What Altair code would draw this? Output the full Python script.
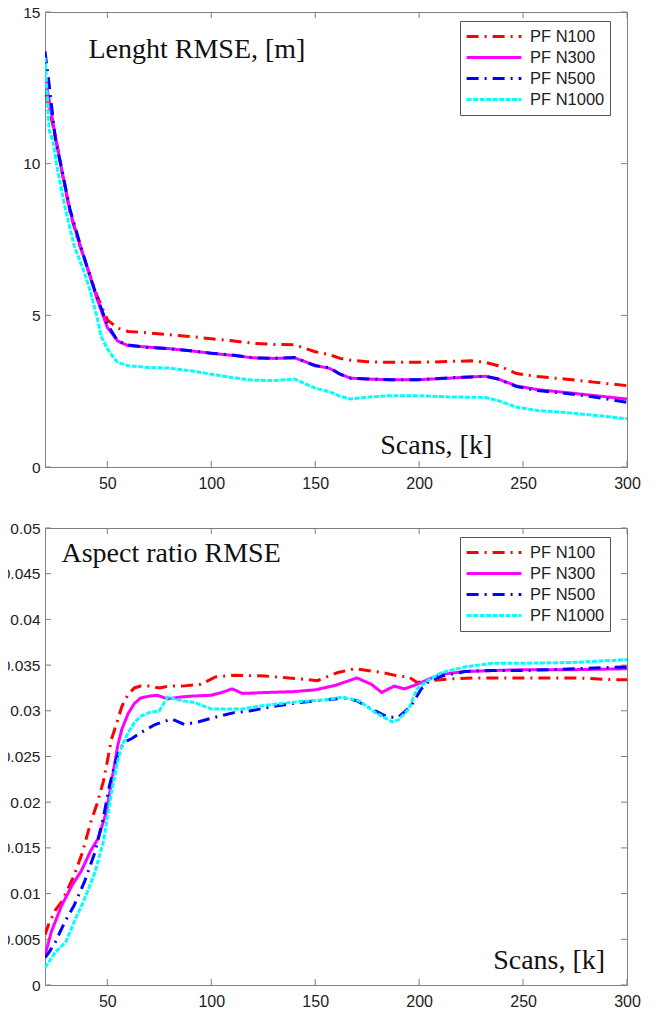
import altair as alt
import pandas as pd

SERIES = ["PF N100", "PF N300", "PF N500", "PF N1000"]
COLORS = ["#ff0000", "#ff00ff", "#0000ff", "#00ffff"]
DASHES = [[12, 6, 2, 6], [1, 0], [12, 6, 2, 6], [5, 1.5]]

# ---- top panel: Length RMSE ----
top_x = [20, 22, 25, 28, 32, 36, 40, 45, 50, 55, 60, 70, 80, 90, 100, 110, 120, 130, 140, 150,
         157, 162, 167, 175, 185, 200, 215, 225, 232, 238, 247, 257, 270, 285, 300]
top_n100 = [12.4, 11.8, 10.9, 9.8, 8.4, 7.45, 6.65, 5.65, 4.85, 4.58, 4.47, 4.42, 4.36, 4.3, 4.23,
            4.16, 4.08, 4.04, 4.03, 3.8, 3.7, 3.58, 3.52, 3.47, 3.45, 3.45, 3.48, 3.5, 3.45, 3.34,
            3.08, 2.98, 2.9, 2.79, 2.68]
top_n300 = [12.8, 12.1, 10.9, 9.8, 8.45, 7.5, 6.65, 5.55, 4.6, 4.15, 4.0, 3.95, 3.9, 3.83, 3.75,
            3.68, 3.6, 3.58, 3.6, 3.35, 3.25, 3.06, 2.93, 2.9, 2.88, 2.88, 2.93, 2.97, 2.99, 2.9,
            2.67, 2.55, 2.46, 2.35, 2.24]
top_n500 = [13.7, 12.6, 10.8, 9.85, 8.5, 7.55, 6.65, 5.6, 4.7, 4.15, 4.02, 3.94, 3.9, 3.83, 3.75,
            3.69, 3.6, 3.58, 3.61, 3.34, 3.27, 3.06, 2.93, 2.9, 2.88, 2.88, 2.94, 2.97, 2.99, 2.9,
            2.65, 2.52, 2.43, 2.3, 2.13]
top_x_n1000 = [20, 22, 24, 25.5, 29.5, 34, 39, 42, 45, 47, 50, 53, 55, 60, 70, 80, 90, 100, 110, 120,
               130, 140, 150, 157, 162, 167, 175, 185, 200, 215, 225, 232, 238, 247, 257, 270, 285, 300]
top_n1000 = [13.5, 11.1, 10.7, 10.0, 8.6, 7.3, 6.4, 5.75, 4.95, 4.3, 3.9, 3.6, 3.45, 3.34, 3.28,
             3.26, 3.17, 3.06, 2.95, 2.86, 2.85, 2.9, 2.6, 2.48, 2.33, 2.24, 2.30, 2.35, 2.35, 2.31,
             2.3, 2.29, 2.19, 1.97, 1.86, 1.8, 1.7, 1.59]

# ---- bottom panel: Aspect ratio RMSE ----
bot_x_n100 = [20, 22, 25, 28, 31, 34, 38, 42, 45, 48, 50, 52, 55, 57, 60, 63, 66, 70, 75, 80,
              86, 95, 102, 111, 126, 142, 151, 161, 169, 182, 190, 195, 199, 206, 215, 227, 250, 276, 294, 300]
bot_n100 = [0.0055, 0.0068, 0.0082, 0.0091, 0.0105, 0.012, 0.0145, 0.0178, 0.0198, 0.0222,
            0.0245, 0.0269, 0.029, 0.0305, 0.0318, 0.0325, 0.0327, 0.0327, 0.0325, 0.0327,
            0.0327, 0.0329, 0.0337, 0.0339, 0.0338, 0.0335, 0.0333, 0.0342, 0.0346, 0.0342,
            0.0338, 0.0337, 0.0331, 0.0333, 0.0335, 0.0336, 0.0336, 0.0336, 0.0334, 0.0334]
bot_x_n300 = [20, 23, 28, 33, 37.5, 42, 45.5, 49.5, 52, 55, 57, 60, 63, 66, 70, 74, 79, 85, 90, 100,
              105, 110, 115, 126, 140, 150, 160, 170, 177, 182, 188, 193, 199, 205, 211, 222, 235, 250, 275, 300]
bot_n300 = [0.0032, 0.0058, 0.0087, 0.0109, 0.0125, 0.0147, 0.016, 0.0189, 0.0222, 0.0262,
            0.028, 0.0297, 0.0308, 0.0314, 0.0316, 0.0317, 0.0313, 0.0315, 0.0316, 0.0317,
            0.032, 0.0324, 0.0319, 0.032, 0.0321, 0.0323, 0.0328, 0.0336, 0.0329, 0.032,
            0.0327, 0.0324, 0.0329, 0.0335, 0.034, 0.0343, 0.0344, 0.0345, 0.0345, 0.0346]
bot_x_n500 = [20, 22, 25, 29.5, 34, 39, 44, 48, 51, 54, 56, 58.5, 62, 66, 73, 81, 87, 94, 102, 111,
              119, 130, 142, 155, 164, 170, 177, 185, 190, 196, 201, 205, 211, 222, 235, 250, 275, 300]
bot_n500 = [0.0030, 0.0036, 0.0047, 0.0069, 0.0087, 0.0113, 0.0145, 0.0182, 0.0218, 0.0245,
            0.0258, 0.0266, 0.027, 0.0276, 0.0285, 0.0291, 0.0285, 0.0288, 0.0293, 0.0298,
            0.030, 0.0305, 0.0309, 0.0312, 0.0314, 0.0311, 0.0302, 0.0293, 0.0293, 0.0305,
            0.0324, 0.0333, 0.0338, 0.0343, 0.0344, 0.0344, 0.0346, 0.0348]
bot_x_n1000 = [20, 25, 30, 34, 39, 44, 48, 52, 55, 57, 60, 63, 66, 70, 75, 79, 86, 92, 100, 115,
               126, 142, 155, 163, 171, 179, 187, 190, 195, 199, 204, 211, 222, 235, 250, 275, 300]
bot_n1000 = [0.0019, 0.0036, 0.0047, 0.0069, 0.0094, 0.0123, 0.0156, 0.0211, 0.0245, 0.0262,
             0.0276, 0.0287, 0.0294, 0.0298, 0.0300, 0.0315, 0.0311, 0.0309, 0.0302, 0.0302,
             0.0306, 0.031, 0.0312, 0.0315, 0.0311, 0.0298, 0.0288, 0.029, 0.0302, 0.0324,
             0.0333, 0.0342, 0.0348, 0.0352, 0.0352, 0.0353, 0.0356]

x_ticks = [50, 100, 150, 200, 250, 300]
top_y_ticks = [0, 5, 10, 15]
bot_y_ticks = [0, 0.005, 0.01, 0.015, 0.02, 0.025, 0.03, 0.035, 0.04, 0.045, 0.05]

top_titles = ["Lenght RMSE, [m]", "Scans, [k]"]
top_title_x = [40.9, 181.3]
top_title_y = [13.5, 0.43]
bot_titles = ["Aspect ratio RMSE", "Scans, [k]"]
bot_title_x = [27.9, 235.6]
bot_title_y = [0.0463, 0.00175]

W = 582
TICK = 6
FRAME = "#808080"


def long_df(pairs):
    rows = []
    for name, xs, ys in pairs:
        assert len(xs) == len(ys), name
        for i, (xv, yv) in enumerate(zip(xs, ys)):
            rows.append({"series": name, "x": xv, "y": yv, "idx": i})
    return pd.DataFrame(rows)


def panel(df, H, ydom, yticks, texts, tx, ty):
    xs = alt.Scale(domain=[20, 300], nice=False, zero=False)
    ys = alt.Scale(domain=ydom, nice=False, zero=False)
    X = alt.X("x:Q", scale=xs, title=None,
              axis=alt.Axis(values=x_ticks, format="~f", labelFlush=False,
                            labelPadding=8, labelFontSize=16))
    Y = alt.Y("y:Q", scale=ys, title=None,
              axis=alt.Axis(values=yticks, format="~f", labelFlush=False,
                            labelPadding=5, labelFontSize=15.5))
    leg = alt.Legend(title=None, orient="none", legendX=415, legendY=9,
                     labelFontSize=16.5, labelFont="Liberation Sans")
    lines = alt.Chart(df).mark_line(strokeWidth=3, clip=True).encode(
        x=X, y=Y,
        color=alt.Color("series:N", scale=alt.Scale(domain=SERIES, range=COLORS), legend=leg),
        strokeDash=alt.StrokeDash("series:N", scale=alt.Scale(domain=SERIES, range=DASHES),
                                  legend=leg),
        order="idx:Q",
    )
    xt = pd.DataFrame({"x": x_ticks})
    yt = pd.DataFrame({"y": yticks})
    xb = alt.Chart(xt).mark_rule(color=FRAME, strokeWidth=1).encode(
        x=X, y=alt.value(H), y2=alt.value(H - TICK))
    xtop = alt.Chart(xt).mark_rule(color=FRAME, strokeWidth=1).encode(
        x=X, y=alt.value(0), y2=alt.value(TICK))
    yl = alt.Chart(yt).mark_rule(color=FRAME, strokeWidth=1).encode(
        y=Y, x=alt.value(0), x2=alt.value(TICK))
    yr = alt.Chart(yt).mark_rule(color=FRAME, strokeWidth=1).encode(
        y=Y, x=alt.value(W), x2=alt.value(W - TICK))
    tdf = pd.DataFrame({"x": tx, "y": ty, "t": texts})
    txt = alt.Chart(tdf).mark_text(font="Liberation Serif", fontSize=28, align="left",
                                   baseline="alphabetic", color="#111111").encode(
        x=X, y=Y, text="t:N")
    return alt.layer(xb, xtop, yl, yr, txt, lines).properties(width=W, height=H)


top_df = long_df([
    ("PF N100", top_x, top_n100),
    ("PF N300", top_x, top_n300),
    ("PF N500", top_x, top_n500),
    ("PF N1000", top_x_n1000, top_n1000),
])
bot_df = long_df([
    ("PF N100", bot_x_n100, bot_n100),
    ("PF N300", bot_x_n300, bot_n300),
    ("PF N500", bot_x_n500, bot_n500),
    ("PF N1000", bot_x_n1000, bot_n1000),
])

top = panel(top_df, 455, [0, 15], top_y_ticks, top_titles, top_title_x, top_title_y)
bot = panel(bot_df, 457, [0, 0.05], bot_y_ticks, bot_titles, bot_title_x, bot_title_y)

chart = alt.vconcat(top, bot, spacing=28).resolve_legend(
    color="independent", strokeDash="independent"
).properties(
    padding={"left": -8, "top": -4, "right": 0, "bottom": 0}
).configure_view(
    stroke=FRAME, strokeWidth=1
).configure_axis(
    labelFont="Liberation Sans", labelColor="#222222",
    ticks=False, domain=False, grid=False
).configure_legend(
    fillColor="white", strokeColor="#555555", padding=5, cornerRadius=0,
    labelFont="Liberation Sans", labelFontSize=16.5, labelColor="#222222",
    symbolType="stroke", symbolSize=3000, symbolStrokeWidth=3, clipHeight=21,
    rowPadding=0, labelOffset=7
)

chart.save("out.html", embed_options={"renderer": "svg", "actions": False})
